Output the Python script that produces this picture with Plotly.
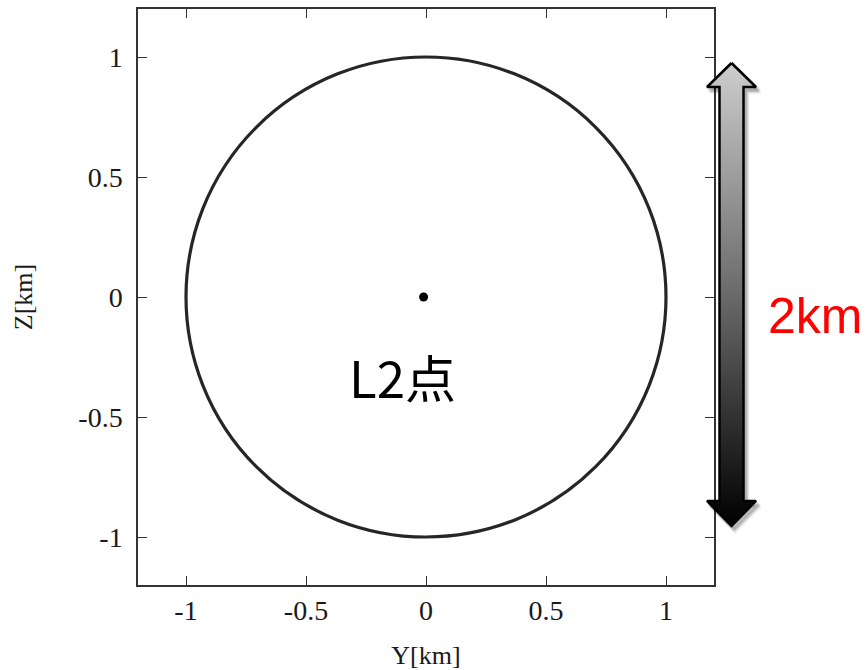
import plotly.graph_objects as go

# ---- data ----
tick_vals = [-1, -0.5, 0, 0.5, 1]
tick_text = ["-1", "-0.5", "0", "0.5", "1"]
axis_range = [-1.2, 1.2]
orbit_radius_km = 1.0
l2_point_x = [-0.01]
l2_point_y = [0.0]
l2_label = "L2点"
scale_label = "2km"
x_title = "Y[km]"
y_title = "Z[km]"

# ---- layout constants (pixel geometry of the page) ----
W, H = 866, 670
PL, PR, PT, PB = 138, 714, 9, 585  # plot area in px

# decorative double arrow (pixel coordinates on an overlay axis)
cx = 731.5
arrow_x = [cx, 756, 743.5, 743.5, 756, cx, 707, 719.5, 719.5, 707, cx]
arrow_y = [63, 87, 87, 501, 501, 526, 501, 501, 87, 87, 63]

serif = "Liberation Serif"
axis_common = dict(
    showline=True, linecolor="#333333", linewidth=1.5, mirror="ticks",
    ticks="inside", ticklen=9, tickwidth=1.3, tickcolor="#333333",
    showgrid=False, zeroline=False, tickmode="array",
    tickvals=tick_vals, ticktext=tick_text,
    tickfont=dict(family=serif, size=28, color="#1a1a1a"),
    range=axis_range, fixedrange=True,
)

fig = go.Figure()

# central point
fig.add_trace(go.Scatter(
    x=l2_point_x, y=l2_point_y, mode="markers",
    marker=dict(color="black", size=9), xaxis="x", yaxis="y",
    showlegend=False, hoverinfo="skip",
))

# arrow shadow layers
for dx, dy, a in [(4, 5, 0.06), (3, 4, 0.08), (2, 3, 0.08)]:
    fig.add_trace(go.Scatter(
        x=[v + dx for v in arrow_x], y=[v + dy for v in arrow_y],
        mode="lines", fill="toself", fillcolor=f"rgba(0,0,0,{a})",
        line=dict(color=f"rgba(0,0,0,{a})", width=4),
        xaxis="x2", yaxis="y2", showlegend=False, hoverinfo="skip",
    ))

# arrow with gradient fill
fig.add_trace(go.Scatter(
    x=arrow_x, y=arrow_y, mode="lines", fill="toself",
    fillgradient=dict(type="vertical",
                      colorscale=[[0, "#000000"], [0.5, "#6a6a6a"], [1, "#cdcdcd"]]),
    line=dict(color="black", width=2.5),
    xaxis="x2", yaxis="y2", showlegend=False, hoverinfo="skip",
))

fig.update_layout(
    width=W, height=H,
    margin=dict(l=0, r=0, t=0, b=0),
    paper_bgcolor="white", plot_bgcolor="rgba(0,0,0,0)",
    showlegend=False,
    xaxis=dict(domain=[PL / W, PR / W], anchor="y",
               title=dict(text=x_title, font=dict(family=serif, size=26, color="#1a1a1a"), standoff=20),
               **axis_common),
    yaxis=dict(domain=[1 - PB / H, 1 - PT / H], anchor="x",
               ticklabelstandoff=8,
               title=dict(text=y_title, font=dict(family=serif, size=26, color="#1a1a1a"), standoff=38),
               **axis_common),
    xaxis2=dict(domain=[0, 1], range=[0, W], visible=False, anchor="y2", fixedrange=True),
    yaxis2=dict(domain=[0, 1], range=[H, 0], visible=False, anchor="x2", fixedrange=True),
    shapes=[dict(type="circle", xref="x", yref="y",
                 x0=-orbit_radius_km, y0=-orbit_radius_km,
                 x1=orbit_radius_km, y1=orbit_radius_km,
                 line=dict(color="#262626", width=3.2))],
    annotations=[
        dict(text=l2_label, xref="x", yref="y", x=-0.1, y=-0.33,
             showarrow=False, font=dict(family="Noto Sans CJK JP", size=51, color="black")),
        dict(text=scale_label, xref="x2", yref="y2", x=815, y=316,
             showarrow=False, font=dict(family="Liberation Sans", size=50, color="#ff0000")),
    ],
)

fig.write_html("out.html")
